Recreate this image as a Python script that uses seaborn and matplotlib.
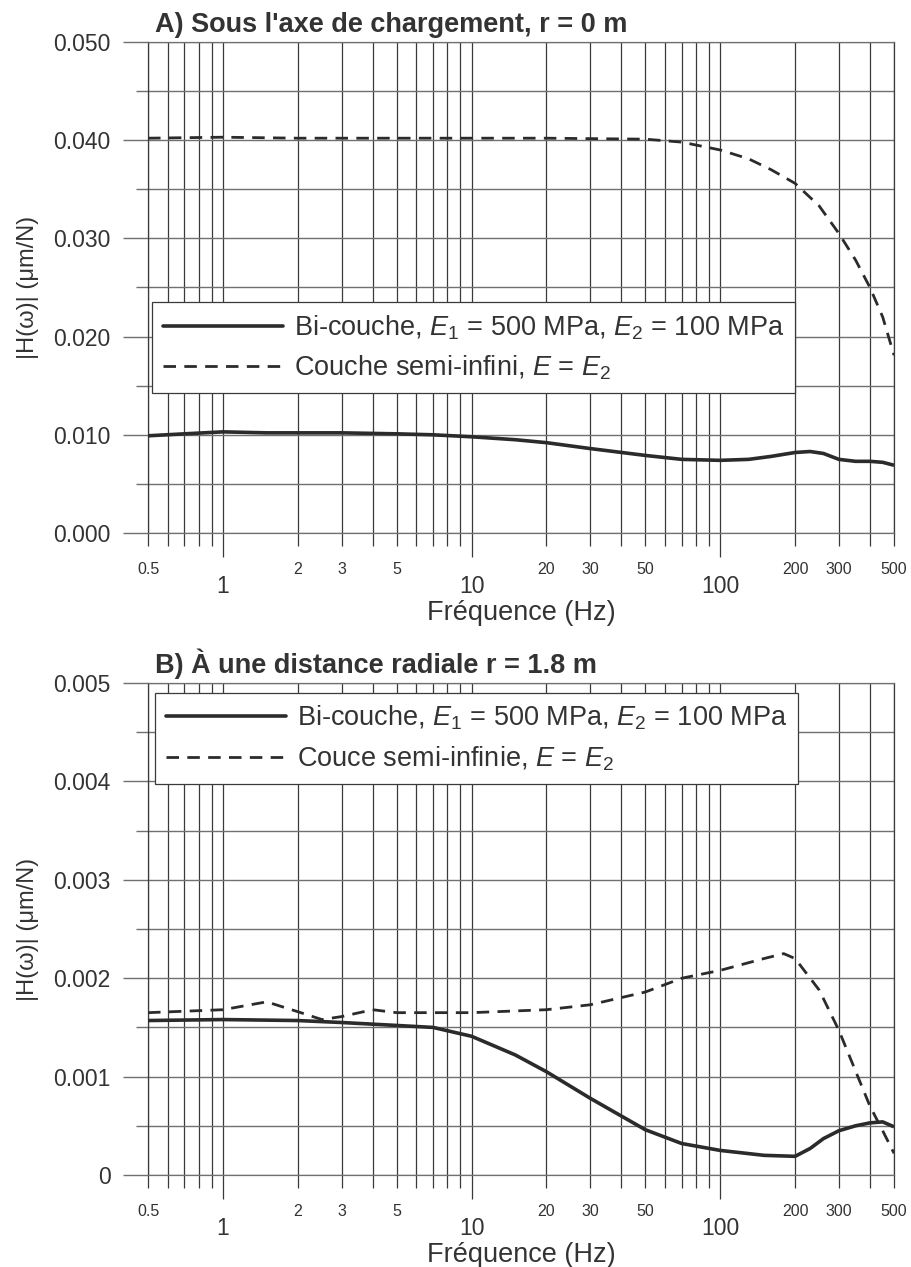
import numpy as np
import pandas as pd
import matplotlib
matplotlib.use("Agg")
import matplotlib.pyplot as plt
import seaborn as sns
from matplotlib.ticker import FixedLocator, FixedFormatter, NullFormatter

# --- valeurs ---
# A) sous l'axe de chargement, r = 0 m
freq_a_bi = [0.5, 0.7, 1, 1.5, 2, 3, 5, 7, 10, 15, 20, 30, 50, 70, 100, 130, 160,
             200, 230, 260, 300, 350, 400, 450, 500]
h_a_bi = [0.0099, 0.0101, 0.0103, 0.0102, 0.0102, 0.0102, 0.0101, 0.0100, 0.0098,
          0.0095, 0.0092, 0.0086, 0.0079, 0.0075, 0.0074, 0.0075, 0.0078, 0.0082,
          0.0083, 0.0081, 0.0075, 0.0073, 0.0073, 0.0072, 0.0069]
freq_a_semi = [0.5, 1, 2, 5, 10, 20, 50, 70, 100, 130, 160, 200, 250, 300, 350,
               400, 450, 500]
h_a_semi = [0.0402, 0.0403, 0.0402, 0.0402, 0.0402, 0.0402, 0.0401, 0.0398, 0.0390,
            0.0381, 0.0370, 0.0356, 0.0333, 0.0305, 0.0278, 0.0250, 0.0220, 0.0181]

# B) a une distance radiale r = 1.8 m
freq_b_bi = [0.5, 1, 2, 3, 5, 7, 10, 15, 20, 30, 50, 70, 100, 150, 200, 230, 260,
             300, 350, 400, 450, 500]
h_b_bi = [0.00157, 0.00158, 0.00157, 0.00155, 0.00152, 0.00150, 0.00141, 0.00122,
          0.00105, 0.00078, 0.00046, 0.00032, 0.00025, 0.00020, 0.00019, 0.00027,
          0.00037, 0.00045, 0.00050, 0.00053, 0.00054, 0.00049]
freq_b_semi = [0.5, 1, 1.5, 2, 2.5, 3, 4, 5, 7, 10, 20, 30, 50, 70, 100, 150, 180,
               200, 250, 300, 400, 450, 500]
h_b_semi = [0.00165, 0.00168, 0.00176, 0.00166, 0.00158, 0.00161, 0.00168, 0.00165,
            0.00165, 0.00165, 0.00168, 0.00173, 0.00186, 0.00200, 0.00208, 0.00220,
            0.00225, 0.00220, 0.00188, 0.00147, 0.00070, 0.00045, 0.00022]

titles = ["A) Sous l'axe de chargement, r = 0 m", "B) À une distance radiale r = 1.8 m"]
labels_a = [r"Bi-couche, $E_1$ = 500 MPa, $E_2$ = 100 MPa", r"Couche semi-infini, $E$ = $E_2$"]
labels_b = [r"Bi-couche, $E_1$ = 500 MPa, $E_2$ = 100 MPa", r"Couce semi-infinie, $E$ = $E_2$"]

yticks_a = [0.000, 0.010, 0.020, 0.030, 0.040, 0.050]
yticklabels_a = ["0.000", "0.010", "0.020", "0.030", "0.040", "0.050"]
yticks_b = [0, 0.001, 0.002, 0.003, 0.004, 0.005]
yticklabels_b = ["0", "0.001", "0.002", "0.003", "0.004", "0.005"]

xmajor = [1, 10, 100]
xminor = [0.5, 0.6, 0.7, 0.8, 0.9, 2, 3, 4, 5, 6, 7, 8, 9, 20, 30, 40, 50, 60, 70,
          80, 90, 200, 300, 400, 500]
xminor_show = [0.5, 2, 3, 5, 20, 30, 50, 200, 300, 500]

sns.set_style("white")
plt.rcParams["font.family"] = ["Liberation Sans", "DejaVu Sans"]
plt.rcParams["mathtext.fontset"] = "custom"
plt.rcParams["mathtext.rm"] = "Liberation Sans"
plt.rcParams["mathtext.it"] = "Liberation Sans:italic"

vc = "#3a3a3a"   # lignes verticales
hc = "#707070"   # lignes horizontales
curve_c = "#2b2b2b"
txt_c = "#333333"
dash_pat = (4.5, 3)

fig = plt.figure(figsize=(9.11, 12.67), dpi=100)
ax_a = fig.add_axes([0.1625, 0.5793, 0.8189, 0.3876])
ax_b = fig.add_axes([0.1625, 0.0726, 0.8189, 0.3883])


def make_df(f1, h1, f2, h2, labs):
    d1 = pd.DataFrame({"f": f1, "h": h1, "serie": labs[0]})
    d2 = pd.DataFrame({"f": f2, "h": h2, "serie": labs[1]})
    return pd.concat([d1, d2], ignore_index=True)


panels = [
    (ax_a, make_df(freq_a_bi, h_a_bi, freq_a_semi, h_a_semi, labels_a), labels_a,
     yticks_a, yticklabels_a, 0.05, 0.005, (0.005, 0.285)),
    (ax_b, make_df(freq_b_bi, h_b_bi, freq_b_semi, h_b_semi, labels_b), labels_b,
     yticks_b, yticklabels_b, 0.005, 0.0005, (0.009, 0.795)),
]

for i, (ax, df, labs, yt, ytl, ymax, ystep, loc_box) in enumerate(panels):
    sns.lineplot(data=df, x="f", y="h", hue="serie", style="serie",
                 palette=[curve_c, curve_c], dashes=[(1, 0), dash_pat],
                 ax=ax, zorder=3, legend=False)
    ax.lines[0].set_linewidth(2.6)
    ax.lines[1].set_linewidth(2.0)
    ax.set_xscale("log")
    ax.set_xlim(0.5, 500)
    ax.set_ylim(0, ymax)

    ax.xaxis.set_major_locator(FixedLocator(xmajor))
    ax.xaxis.set_major_formatter(FixedFormatter([str(v) for v in xmajor]))
    ax.xaxis.set_minor_locator(FixedLocator(xminor))
    ax.xaxis.set_minor_formatter(FixedFormatter(
        [(("%g" % v) if v in xminor_show else "") for v in xminor]))
    ax.yaxis.set_major_locator(FixedLocator(yt))
    ax.yaxis.set_major_formatter(FixedFormatter(ytl))
    ax.yaxis.set_minor_locator(FixedLocator([v + ystep for v in yt[:-1]]))
    ax.yaxis.set_minor_formatter(NullFormatter())

    ax.tick_params(axis="x", which="both", bottom=True, top=False)
    ax.tick_params(axis="y", which="both", left=True, right=False)
    ax.tick_params(axis="x", which="major", direction="out", length=17, width=0.9,
                   color=vc, labelsize=16.5, pad=13, labelcolor=txt_c)
    ax.tick_params(axis="x", which="minor", direction="out", length=9, width=0.9,
                   color=vc, labelsize=11.5, pad=12, labelcolor=txt_c)
    ax.tick_params(axis="y", which="major", direction="out", length=18, width=1.0,
                   color=hc, labelsize=16.5, pad=9, labelcolor=txt_c)
    ax.tick_params(axis="y", which="minor", direction="out", length=9, width=1.0,
                   color=hc)
    ax.grid(True, which="both", axis="x", color=vc, linewidth=0.9, zorder=1)
    ax.grid(True, which="both", axis="y", color=hc, linewidth=1.0, zorder=1)
    ax.set_axisbelow(True)
    ax.spines["left"].set_color(vc)
    ax.spines["right"].set_color(vc)
    ax.spines["top"].set_color(hc)
    ax.spines["bottom"].set_color(hc)
    for s in ax.spines.values():
        s.set_linewidth(0.9)

    ax.set_xlabel("Fréquence (Hz)", fontsize=19.5, color=txt_c, labelpad=2)
    ax.set_ylabel("|H(ω)| (μm/N)", fontsize=17, color=txt_c, labelpad=10)
    ax.set_title(titles[i], loc="left", fontsize=19.5, fontweight="bold",
                 color=txt_c, pad=7, x=0.01)

    handles = [plt.Line2D([], [], color=curve_c, lw=2.6),
               plt.Line2D([], [], color=curve_c, lw=2.0, dashes=dash_pat)]
    leg = ax.legend(handles, labs, loc="lower left", bbox_to_anchor=loc_box,
                    fontsize=19.5, frameon=True, fancybox=False, framealpha=1,
                    edgecolor=vc, handlelength=4.45, handletextpad=0.4,
                    borderpad=0.4, labelspacing=0.45, borderaxespad=0)
    leg.get_frame().set_linewidth(0.9)
    leg.set_zorder(5)
    for t in leg.get_texts():
        t.set_color(txt_c)

fig.savefig("out.png", dpi=100)
